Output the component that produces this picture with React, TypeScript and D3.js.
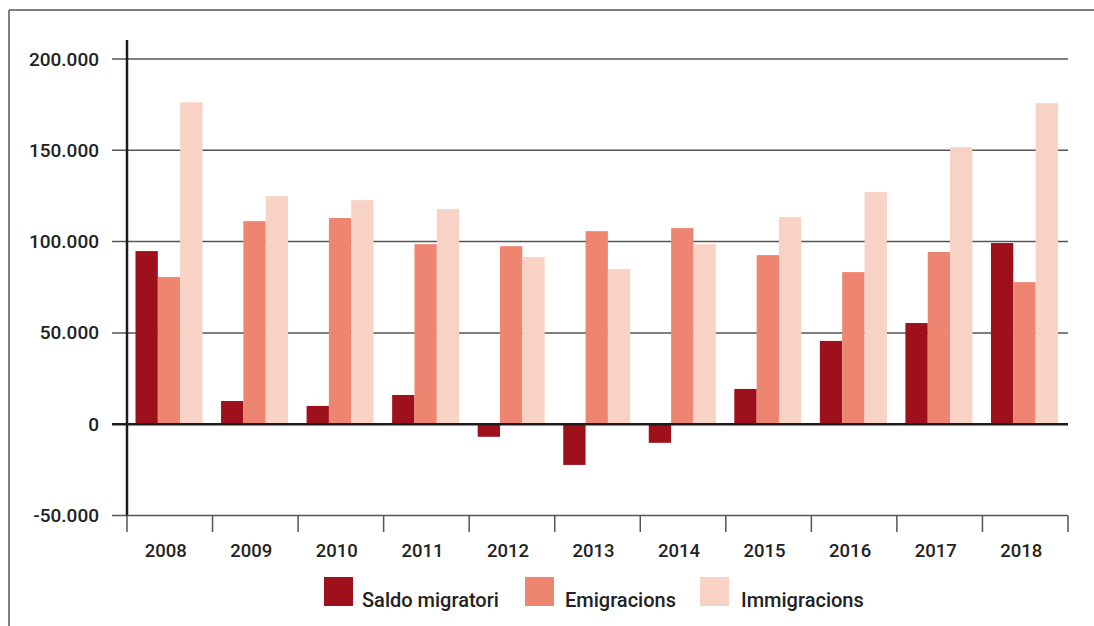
import React from "react";
import * as d3 from "d3";

const years = ["2008", "2009", "2010", "2011", "2012", "2013", "2014", "2015", "2016", "2017", "2018"];
const seriesNames = ["Saldo migratori", "Emigracions", "Immigracions"];
const saldo = [94800, 12700, 10000, 16000, -6900, -22300, -10200, 19300, 45600, 55400, 99200];
const emigracions = [80600, 111200, 112900, 98600, 97500, 105700, 107400, 92600, 83300, 94300, 77800];
const immigracions = [176300, 124900, 122700, 117800, 91500, 85000, 98600, 113400, 127100, 151700, 175800];
const yTicks = [-50000, 0, 50000, 100000, 150000, 200000];
const colors = ["#9e111c", "#ee8571", "#f8d2c5"];

const W = 1094;
const H = 626;
const FONT = "Roboto, 'Open Sans', sans-serif";

export default function App() {
  const x0 = d3.scaleBand<string>().domain(years).range([127, 1068]).paddingInner(0).paddingOuter(0);
  const x1 = d3.scaleBand<string>().domain(seriesNames).range([8.5, 75.5]).padding(0);
  const y = d3.scaleLinear().domain([-50000, 200000]).range([515.5, 59]);
  const series = [saldo, emigracions, immigracions];
  const fmt = (v: number) => d3.format(",")(v).replace(/,/g, ".").replace("\u2212", "-");

  const legendItems = [
    { name: seriesNames[0], sx: 324, tx: 362 },
    { name: seriesNames[1], sx: 525, tx: 565 },
    { name: seriesNames[2], sx: 700, tx: 741 },
  ];

  return (
    <svg width={W} height={H} style={{ position: "absolute", left: 0, top: 0, background: "#fff" }}>
      <rect x={0} y={0} width={W} height={H} fill="#fff" />
      {/* frame */}
      <line x1={9} y1={10} x2={W} y2={10} stroke="#555" strokeWidth={1.5} />
      <line x1={9} y1={10} x2={9} y2={H} stroke="#555" strokeWidth={1.5} />

      {/* gridlines + y labels */}
      {yTicks.map((t) => (
        <g key={t}>
          {t !== 0 && (
            <line x1={112} x2={1068} y1={y(t)} y2={y(t)} stroke="#555" strokeWidth={1.5} />
          )}
          <text
            x={99}
            y={y(t) + 6.5}
            textAnchor="end"
            fontFamily={FONT}
            fontSize={19}
            fontWeight={500}
            fill="#222"
          >
            {fmt(t)}
          </text>
        </g>
      ))}

      {/* bars */}
      {years.map((yr, i) => (
        <g key={yr} transform={`translate(${x0(yr)},0)`}>
          {series.map((s, j) => {
            const v = s[i];
            const top = y(Math.max(0, v));
            const bot = y(Math.min(0, v));
            return (
              <rect
                key={j}
                x={x1(seriesNames[j])}
                y={top}
                width={x1.bandwidth()}
                height={bot - top}
                fill={colors[j]}
              />
            );
          })}
        </g>
      ))}

      {/* zero line */}
      <line x1={112} x2={1068} y1={y(0)} y2={y(0)} stroke="#1c1c1c" strokeWidth={2.5} />
      {/* y axis */}
      <line x1={127} x2={127} y1={40} y2={y(-50000)} stroke="#1c1c1c" strokeWidth={2.5} />

      {/* x ticks */}
      {[...years.map((yr) => x0(yr) as number), 1068].map((tx, i) => (
        <line key={i} x1={tx} x2={tx} y1={y(-50000)} y2={532} stroke="#555" strokeWidth={1.5} />
      ))}
      {years.map((yr) => (
        <text
          key={yr}
          x={(x0(yr) as number) + x0.bandwidth() / 2 - 4}
          y={557}
          textAnchor="middle"
          fontFamily={FONT}
          fontSize={18.5}
          fontWeight={500}
          fill="#222"
        >
          {yr}
        </text>
      ))}

      {/* legend */}
      {legendItems.map((it, j) => (
        <g key={it.name}>
          <rect x={it.sx} y={577} width={29} height={29} fill={colors[j]} />
          <text x={it.tx} y={606.5} fontFamily={FONT} fontSize={20} fontWeight={500} fill="#222">
            {it.name}
          </text>
        </g>
      ))}
    </svg>
  );
}
